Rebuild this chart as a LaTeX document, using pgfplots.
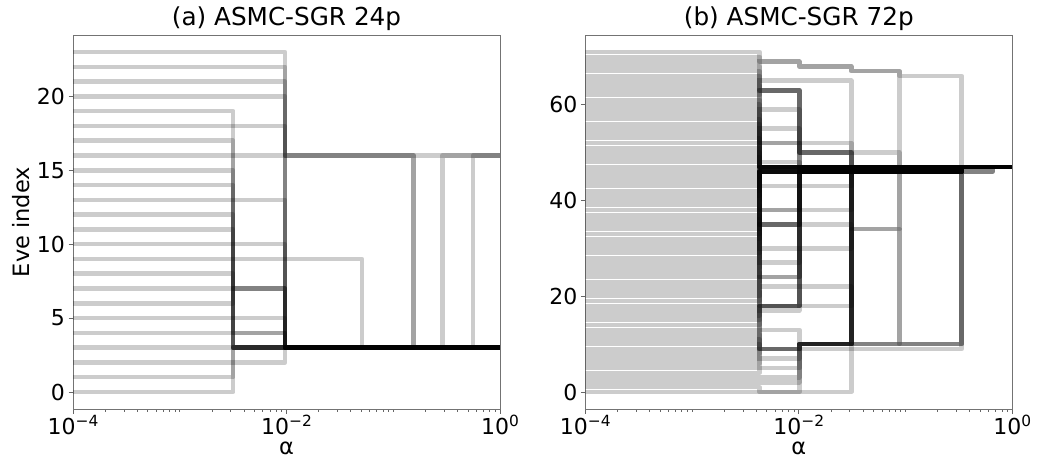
\documentclass[border=0pt]{standalone}
\usepackage{fontspec}
\setmainfont{DejaVu Sans}
\usepackage{pgfplots}
\pgfplotsset{compat=1.18}
\newcommand{\sups}[1]{\raisebox{0.35em}{\fontsize{15.4}{17}\selectfont #1}}
\pgfplotsset{
  ev/.style={const plot, black, draw opacity=0.2, line width=4.5pt, line join=round, no marks},
}
\pgfplotsset{every axis/.append style={
    scale only axis, width=427pt, height=374pt, anchor=south west,
    xmin=1e-4, xmax=1,
    xtick={1e-4,1e-2,1},
    xticklabels={10\sups{−4},10\sups{−2},10\sups{0}},
    minor xtick={2e-4,3e-4,4e-4,5e-4,6e-4,7e-4,8e-4,9e-4,1e-3,2e-3,3e-3,4e-3,5e-3,6e-3,7e-3,8e-3,9e-3,2e-2,3e-2,4e-2,5e-2,6e-2,7e-2,8e-2,9e-2,1e-1,2e-1,3e-1,4e-1,5e-1,6e-1,7e-1,8e-1,9e-1},
    tick align=outside, tick pos=left,
    major tick length=4.5pt, minor tick length=2.5pt,
    every tick/.style={black!60, line width=0.7pt},
    axis line style={black!55, line width=0.8pt},
    /pgf/number format/assume math mode=true,
    tick label style={font=\fontsize{22}{26}\selectfont},
    xticklabel style={inner sep=1.5pt},
    title style={font=\fontsize{24.7}{29}\selectfont, at={(0.5,1)}, anchor=base, yshift=4pt},
    label style={font=\fontsize{22.5}{27}\selectfont},
    xlabel={α},
    xlabel style={at={(axis description cs:0.5,0)}, anchor=base, inner sep=0pt, yshift=-45.5pt},
  }
}
\newcommand{\pa}[7]{\addplot[ev] coordinates {(1e-4,#1) (3.17e-3,#2) (9.7e-3,#3) (0.051,#4) (0.155,#5) (0.29,#6) (0.56,#7) (1,#7)};}
\newcommand{\pb}[7]{\addplot[ev] coordinates {(1e-4,#1) (4.3e-3,#2) (0.0101,#3) (0.031,#4) (0.0875,#5) (0.336,#6) (0.65,#7) (1,#7)};}
\begin{document}
\begin{tikzpicture}
\useasboundingbox (0,0) rectangle (1037pt,459pt);
\begin{semilogxaxis}[at={(73pt,50pt)},
  ymin=-1.15, ymax=24.15, ytick={0,5,10,15,20},
  title={(a) ASMC-SGR 24p}, ylabel={Eve index}]
\pa{0}{3}{3}{3}{3}{3}{3}
\pa{1}{3}{3}{3}{3}{3}{3}
\pa{2}{2}{3}{3}{3}{3}{3}
\pa{3}{3}{3}{3}{3}{3}{3}
\pa{4}{4}{3}{3}{3}{3}{3}
\pa{5}{5}{3}{3}{3}{3}{3}
\pa{6}{7}{3}{3}{3}{3}{3}
\pa{7}{7}{3}{3}{3}{3}{3}
\pa{8}{7}{3}{3}{3}{3}{3}
\pa{9}{9}{9}{3}{3}{3}{3}
\pa{10}{10}{3}{3}{3}{3}{3}
\pa{11}{4}{3}{3}{3}{3}{3}
\pa{12}{3}{3}{3}{3}{3}{3}
\pa{13}{13}{3}{3}{3}{3}{3}
\pa{14}{3}{3}{3}{3}{3}{3}
\pa{15}{3}{3}{3}{3}{3}{3}
\pa{16}{16}{16}{16}{16}{16}{16}
\pa{17}{3}{3}{3}{3}{3}{3}
\pa{18}{18}{16}{16}{3}{3}{3}
\pa{19}{3}{3}{3}{3}{3}{3}
\pa{20}{20}{16}{16}{3}{3}{3}
\pa{21}{21}{3}{3}{3}{16}{16}
\pa{22}{22}{3}{3}{3}{3}{16}
\pa{23}{23}{3}{3}{3}{3}{3}
\end{semilogxaxis}
\begin{semilogxaxis}[at={(585.3pt,50pt)},
  ymin=-3.55, ymax=74.55, ytick={0,20,40,60},
  title={(b) ASMC-SGR 72p}]
\pb{0}{0}{0}{46}{46}{47}{47}
\pb{1}{0}{10}{10}{10}{46}{47}
\pb{2}{2}{10}{10}{47}{47}{47}
\pb{3}{3}{10}{46}{46}{47}{47}
\pb{4}{46}{46}{46}{46}{47}{47}
\pb{5}{5}{10}{47}{47}{47}{47}
\pb{6}{46}{46}{46}{46}{47}{47}
\pb{7}{7}{10}{47}{47}{47}{47}
\pb{8}{46}{46}{46}{46}{47}{47}
\pb{9}{9}{10}{47}{47}{47}{47}
\pb{10}{9}{10}{46}{46}{47}{47}
\pb{11}{9}{9}{9}{9}{46}{47}
\pb{12}{9}{10}{47}{47}{47}{47}
\pb{13}{13}{10}{47}{47}{47}{47}
\pb{14}{18}{47}{47}{47}{47}{47}
\pb{15}{18}{47}{47}{47}{47}{47}
\pb{16}{18}{47}{47}{47}{47}{47}
\pb{17}{17}{47}{47}{47}{47}{47}
\pb{18}{18}{18}{47}{47}{47}{47}
\pb{19}{47}{47}{47}{47}{47}{47}
\pb{20}{46}{46}{46}{46}{47}{47}
\pb{21}{18}{47}{47}{47}{47}{47}
\pb{22}{22}{22}{10}{10}{46}{47}
\pb{23}{46}{46}{46}{46}{47}{47}
\pb{24}{24}{46}{46}{46}{47}{47}
\pb{25}{24}{46}{46}{46}{47}{47}
\pb{26}{46}{46}{46}{46}{47}{47}
\pb{27}{27}{46}{46}{46}{47}{47}
\pb{28}{47}{47}{47}{47}{47}{47}
\pb{29}{46}{46}{46}{46}{47}{47}
\pb{30}{30}{30}{34}{10}{47}{47}
\pb{31}{46}{46}{46}{46}{47}{47}
\pb{32}{46}{46}{46}{46}{47}{47}
\pb{33}{47}{47}{47}{47}{47}{47}
\pb{34}{35}{46}{46}{46}{47}{47}
\pb{35}{35}{35}{34}{47}{47}{47}
\pb{36}{35}{46}{46}{46}{47}{47}
\pb{37}{35}{46}{46}{46}{47}{47}
\pb{38}{38}{38}{46}{46}{47}{47}
\pb{39}{38}{46}{46}{46}{47}{47}
\pb{40}{46}{46}{46}{46}{47}{47}
\pb{41}{46}{46}{46}{46}{47}{47}
\pb{42}{46}{46}{46}{46}{47}{47}
\pb{43}{43}{43}{46}{46}{47}{47}
\pb{44}{46}{46}{46}{46}{47}{47}
\pb{45}{47}{47}{47}{47}{47}{47}
\pb{46}{46}{46}{46}{46}{47}{47}
\pb{47}{47}{47}{47}{47}{47}{47}
\pb{48}{48}{47}{47}{47}{47}{47}
\pb{49}{47}{47}{47}{47}{47}{47}
\pb{50}{47}{47}{47}{47}{47}{47}
\pb{51}{47}{47}{47}{47}{47}{47}
\pb{52}{52}{52}{47}{47}{47}{47}
\pb{53}{52}{50}{47}{47}{47}{47}
\pb{54}{47}{47}{47}{47}{47}{47}
\pb{55}{55}{47}{47}{47}{47}{47}
\pb{56}{47}{47}{47}{47}{47}{47}
\pb{57}{47}{47}{47}{47}{47}{47}
\pb{58}{47}{47}{47}{47}{47}{47}
\pb{59}{59}{47}{47}{47}{47}{47}
\pb{60}{47}{47}{47}{47}{47}{47}
\pb{61}{47}{47}{47}{47}{47}{47}
\pb{62}{63}{50}{50}{47}{47}{47}
\pb{63}{63}{50}{47}{47}{47}{47}
\pb{64}{63}{50}{47}{47}{47}{47}
\pb{65}{65}{65}{47}{47}{47}{47}
\pb{66}{63}{47}{47}{47}{47}{47}
\pb{67}{47}{47}{47}{47}{47}{47}
\pb{68}{47}{47}{47}{47}{47}{47}
\pb{69}{69}{68}{67}{47}{47}{47}
\pb{70}{69}{68}{67}{66}{47}{47}
\pb{71}{47}{47}{47}{47}{47}{47}
\end{semilogxaxis}
\end{tikzpicture}
\end{document}
